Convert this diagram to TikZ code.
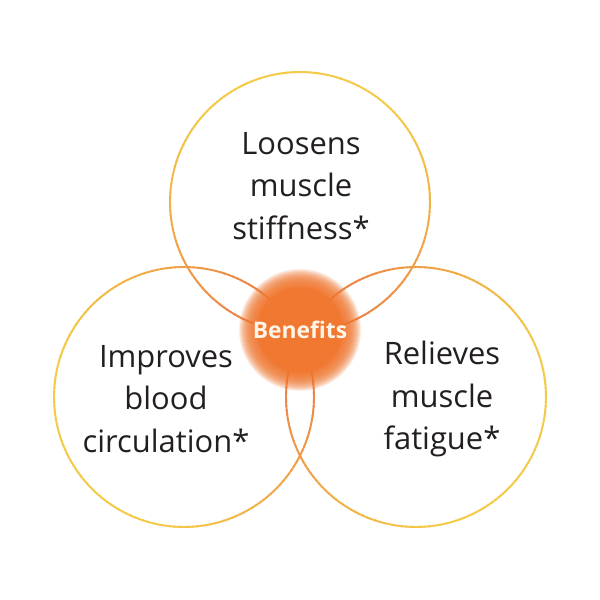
\documentclass[tikz,border=0pt]{standalone}
\usepackage{fontspec}
\setmainfont{Open Sans}
\definecolor{orng}{RGB}{236,134,72}
\definecolor{yel}{RGB}{244,202,72}
\definecolor{glowc}{RGB}{241,120,48}
\definecolor{txt}{RGB}{35,31,32}
\definecolor{hubtxt}{RGB}{255,244,232}
\tikzset{
  ringline/.style={line width=1.1pt, line cap=round},
  label/.style={text=txt, align=center, font=\fontsize{17.6}{24.4}\selectfont, inner sep=0pt},
  hub/.style={text=hubtxt, font=\fontsize{13}{15}\selectfont\bfseries, inner sep=0pt},
  glowlayer/.style={fill=glowc, opacity=0.13}
}
\begin{document}
\begin{tikzpicture}[x=0.02cm, y=-0.02cm]
\useasboundingbox[fill=white] (0,0) rectangle (600,600);
\foreach \cx/\cy in {300/202, 184/397, 416/397} {
  \foreach \a in {0,2,...,358} {
    \pgfmathsetmacro\px{\cx+130*cos(\a)}
    \pgfmathsetmacro\py{\cy+130*sin(\a)}
    \pgfmathsetmacro\d{10*veclen((\px-300)/10,(\py-330)/10)}
    \pgfmathsetmacro\t{max(0,min(100,(\d-70)/1.7))}
    \draw[ringline, color=yel!\t!orng] (\px,\py) arc[start angle=\a, end angle=\a+2.4, radius=130];
  }
}
\coordinate (hubc) at (300,330);
\foreach \r in {61,60,...,43} {
  \fill[glowlayer] (hubc) circle (\r);
}
\fill[glowc] (hubc) circle (43);
\node[hub] (hubtext) at (hubc) {Benefits};
\node[label] (top) at (301,186) {Loosens\\muscle\\stiffness*};
\node[label] (left) at (166,399) {Improves\\blood\\circulation*};
\node[label] (right) at (442,399) {Relieves\\muscle\\fatigue*};
\end{tikzpicture}
\end{document}
